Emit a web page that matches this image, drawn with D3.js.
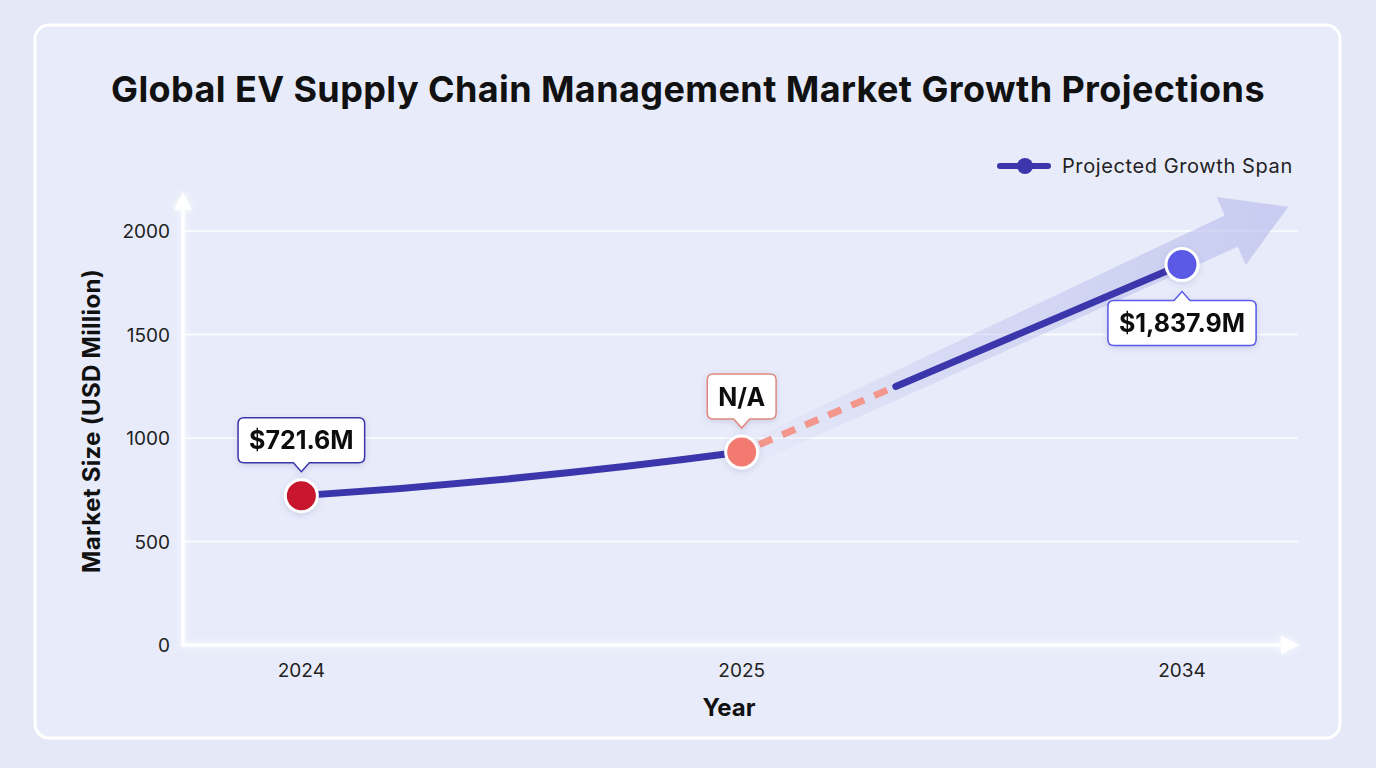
<!DOCTYPE html>
<html>
<head>
<meta charset="utf-8">
<script src="https://cdn.jsdelivr.net/npm/d3@7"></script>
<style>
  html, body { margin: 0; padding: 0; background: #e4e8f7; }
  svg { display: block; font-family: Inter, "Noto Sans", sans-serif; }
</style>
</head>
<body>
<div id="chart"></div>
<script>
const years = ['2024', '2025', '2034'];
const marketSize = [721.6, 932, 1837.9];   // 2025 value is not reported
const pointLabels = ['$721.6M', 'N/A', '$1,837.9M'];
const yTicks = [0, 500, 1000, 1500, 2000];
const legendLabel = 'Projected Growth Span';

const W = 1376;
const H = 768;
const plot = {left: 183, right: 1275, top: 200, bottom: 645, gridRight: 1298};
const lineColor = '#3b36ab';
const pointColors = ['#c8182f', '#f37a70', '#5a5ae6'];
const labelBorders = ['#3b36ab', '#e0887f', '#5a5ae6'];

const svg = d3.select('#chart')
  .append('svg')
  .attr('width', W)
  .attr('height', H);

const defs = svg.append('defs');

let glow = defs.append('filter').attr('id', 'glow')
  .attr('x', '-50%').attr('y', '-50%').attr('width', '200%').attr('height', '200%');
glow.append('feGaussianBlur').attr('stdDeviation', 3).attr('result', 'b');
let merge = glow.append('feMerge');
merge.append('feMergeNode').attr('in', 'b');
merge.append('feMergeNode').attr('in', 'SourceGraphic');

let shadow = defs.append('filter').attr('id', 'shadow')
  .attr('x', '-20%').attr('y', '-30%').attr('width', '140%').attr('height', '160%');
shadow.append('feDropShadow').attr('dx', 0).attr('dy', 2).attr('stdDeviation', 3)
  .attr('flood-color', '#4a4a90').attr('flood-opacity', 0.18);

let grad = defs.append('linearGradient').attr('id', 'bandGrad')
  .attr('gradientUnits', 'userSpaceOnUse');

// card
svg.append('rect')
  .attr('x', 35).attr('y', 25)
  .attr('width', 1305).attr('height', 713)
  .attr('rx', 14)
  .attr('fill', '#e8ecfa')
  .attr('stroke', '#ffffff')
  .attr('stroke-width', 3);

svg.append('text')
  .attr('x', 688).attr('y', 102)
  .attr('text-anchor', 'middle')
  .attr('font-size', 36)
  .attr('font-weight', 700)
  .attr('letter-spacing', 0.4)
  .attr('fill', '#111')
  .text('Global EV Supply Chain Management Market Growth Projections');

const x = d3.scalePoint()
  .domain(years)
  .range([plot.left, plot.right])
  .padding(0.24)
  .align(0.56);

const y = d3.scaleLinear()
  .domain([0, 2000])
  .range([plot.bottom, 231]);

// grid
svg.append('g')
  .selectAll('line')
  .data(yTicks.filter(d => d > 0))
  .enter()
  .append('line')
  .attr('x1', plot.left).attr('x2', plot.gridRight)
  .attr('y1', d => y(d)).attr('y2', d => y(d))
  .attr('stroke', '#ffffff')
  .attr('stroke-width', 1.6)
  .attr('opacity', 0.95);

// axes with arrows
let axes = svg.append('g').attr('filter', 'url(#glow)');
axes.append('line')
  .attr('x1', plot.left).attr('x2', plot.left)
  .attr('y1', plot.bottom + 1.5).attr('y2', 205)
  .attr('stroke', '#fff').attr('stroke-width', 3.5);
axes.append('path')
  .attr('d', `M${plot.left - 9},${210} L${plot.left},${192} L${plot.left + 9},${210} Z`)
  .attr('fill', '#fff');
axes.append('line')
  .attr('x1', plot.left).attr('x2', 1285)
  .attr('y1', plot.bottom).attr('y2', plot.bottom)
  .attr('stroke', '#fff').attr('stroke-width', 3.5);
axes.append('path')
  .attr('d', `M1281,${plot.bottom - 9} L1299,${plot.bottom} L1281,${plot.bottom + 9} Z`)
  .attr('fill', '#fff');

// tick labels
svg.append('g')
  .selectAll('text')
  .data(yTicks)
  .enter()
  .append('text')
  .attr('x', 170)
  .attr('y', d => y(d) + 7)
  .attr('text-anchor', 'end')
  .attr('font-size', 19)
  .attr('fill', '#222')
  .text(d => d);

svg.append('g')
  .selectAll('text')
  .data(years)
  .enter()
  .append('text')
  .attr('x', d => x(d))
  .attr('y', 677)
  .attr('text-anchor', 'middle')
  .attr('font-size', 19)
  .attr('fill', '#222')
  .text(d => d);

svg.append('text')
  .attr('x', (plot.left + plot.right) / 2).attr('y', 716)
  .attr('text-anchor', 'middle')
  .attr('font-size', 24)
  .attr('font-weight', 700)
  .attr('fill', '#111')
  .text('Year');

svg.append('text')
  .attr('transform', 'translate(100,421) rotate(-90)')
  .attr('text-anchor', 'middle')
  .attr('font-size', 24)
  .attr('font-weight', 700)
  .attr('letter-spacing', 0.3)
  .attr('fill', '#111')
  .text('Market Size (USD Million)');

// points in pixel space
const pts = years.map((d, i) => [x(d), y(marketSize[i])]);

// translucent growth arrow from 2025 towards and past 2034
(function drawBand() {
  let p0 = pts[1], p1 = pts[2];
  let dx = p1[0] - p0[0], dy = p1[1] - p0[1];
  let len = Math.hypot(dx, dy);
  let ux = dx / len, uy = dy / len;
  let nx = -uy, ny = ux;
  let start = [p0[0] + ux * 18, p0[1] + uy * 18 + 4];
  let tip = [p1[0] + ux * 118 - nx * 6, p1[1] + uy * 118 - ny * 6 - 6];
  let headLen = 62, shaftW = 17, headW = 37;
  let base = [tip[0] - ux * headLen, tip[1] - uy * headLen];
  let poly = [
    [start[0] + nx * shaftW * 0.7, start[1] + ny * shaftW * 0.7],
    [base[0] + nx * shaftW, base[1] + ny * shaftW],
    [base[0] + nx * headW, base[1] + ny * headW],
    tip,
    [base[0] - nx * headW, base[1] - ny * headW],
    [base[0] - nx * shaftW, base[1] - ny * shaftW],
    [start[0] - nx * shaftW * 0.7, start[1] - ny * shaftW * 0.7]
  ];
  grad.attr('x1', start[0]).attr('y1', start[1]).attr('x2', tip[0]).attr('y2', tip[1]);
  grad.append('stop').attr('offset', '0%').attr('stop-color', '#c2c5ec').attr('stop-opacity', 0.1);
  grad.append('stop').attr('offset', '35%').attr('stop-color', '#bcc0ec').attr('stop-opacity', 0.4);
  grad.append('stop').attr('offset', '100%').attr('stop-color', '#b3b6ea').attr('stop-opacity', 0.6);
  svg.append('path')
    .attr('d', d3.line()(poly) + 'Z')
    .attr('fill', 'url(#bandGrad)');
})();

// 2024 -> 2025: gentle upward bend
const bend = d3.path();
bend.moveTo(pts[0][0], pts[0][1]);
bend.quadraticCurveTo(
  (pts[0][0] + pts[1][0]) / 2, pts[0][1] + (pts[1][1] - pts[0][1]) * 0.33,
  pts[1][0], pts[1][1]);

svg.append('path')
  .attr('d', bend.toString())
  .attr('fill', 'none')
  .attr('stroke', lineColor)
  .attr('stroke-width', 7)
  .attr('stroke-linecap', 'round');

// 2025 -> 2034: dashed unreported part, then solid projection
const splitAt = 0.35;
const mid = d3.interpolate(pts[1], pts[2])(splitAt);
const dashStart = d3.interpolate(pts[1], pts[2])(0.04);

svg.append('path')
  .attr('d', d3.line()([dashStart, mid]))
  .attr('fill', 'none')
  .attr('stroke', '#f3968c')
  .attr('stroke-width', 7)
  .attr('stroke-dasharray', '14 11');

svg.append('path')
  .attr('d', d3.line()([mid, pts[2]]))
  .attr('fill', 'none')
  .attr('stroke', lineColor)
  .attr('stroke-width', 7)
  .attr('stroke-linecap', 'round');

// points
svg.append('g')
  .selectAll('circle')
  .data(pts)
  .enter()
  .append('circle')
  .attr('cx', d => d[0])
  .attr('cy', d => d[1])
  .attr('r', 16)
  .attr('fill', (d, i) => pointColors[i])
  .attr('stroke', '#fff')
  .attr('stroke-width', 3)
  .attr('filter', 'url(#shadow)');

// callout labels
pts.forEach((p, i) => {
  let below = i === 2;
  let g = svg.append('g').attr('filter', 'url(#shadow)');
  let t = g.append('text')
    .attr('text-anchor', 'middle')
    .attr('font-size', 25)
    .attr('font-weight', 700)
    .attr('fill', '#111')
    .text(pointLabels[i]);
  let tw = t.node().getComputedTextLength();
  let bw = tw + 22, bh = 45;
  let bx = p[0] - bw / 2;
  let by = below ? p[1] + 36 : p[1] - 33 - bh;
  let ax = p[0], aw = 8, ah = 9;
  let path;
  if (below) {
    path = `M${bx + 6},${by} L${ax - aw},${by} L${ax},${by - ah} L${ax + aw},${by} L${bx + bw - 6},${by}
      Q${bx + bw},${by} ${bx + bw},${by + 6} L${bx + bw},${by + bh - 6} Q${bx + bw},${by + bh} ${bx + bw - 6},${by + bh}
      L${bx + 6},${by + bh} Q${bx},${by + bh} ${bx},${by + bh - 6} L${bx},${by + 6} Q${bx},${by} ${bx + 6},${by} Z`;
  } else {
    path = `M${bx + 6},${by} L${bx + bw - 6},${by} Q${bx + bw},${by} ${bx + bw},${by + 6} L${bx + bw},${by + bh - 6}
      Q${bx + bw},${by + bh} ${bx + bw - 6},${by + bh} L${ax + aw},${by + bh} L${ax},${by + bh + ah} L${ax - aw},${by + bh}
      L${bx + 6},${by + bh} Q${bx},${by + bh} ${bx},${by + bh - 6} L${bx},${by + 6} Q${bx},${by} ${bx + 6},${by} Z`;
  }
  g.insert('path', 'text')
    .attr('d', path)
    .attr('fill', '#fff')
    .attr('stroke', labelBorders[i])
    .attr('stroke-width', 1.5);
  t.attr('x', p[0]).attr('y', by + bh / 2 + 9);
});

// legend
let lg = svg.append('g').attr('transform', 'translate(1000,166)');
lg.append('line')
  .attr('x1', 0).attr('x2', 48)
  .attr('stroke', lineColor).attr('stroke-width', 6)
  .attr('stroke-linecap', 'round');
lg.append('circle')
  .attr('cx', 25).attr('r', 8)
  .attr('fill', lineColor);
lg.append('text')
  .attr('x', 62).attr('y', 7)
  .attr('font-size', 20)
  .attr('letter-spacing', 0.6)
  .attr('fill', '#222')
  .text(legendLabel);
</script>
</body>
</html>
